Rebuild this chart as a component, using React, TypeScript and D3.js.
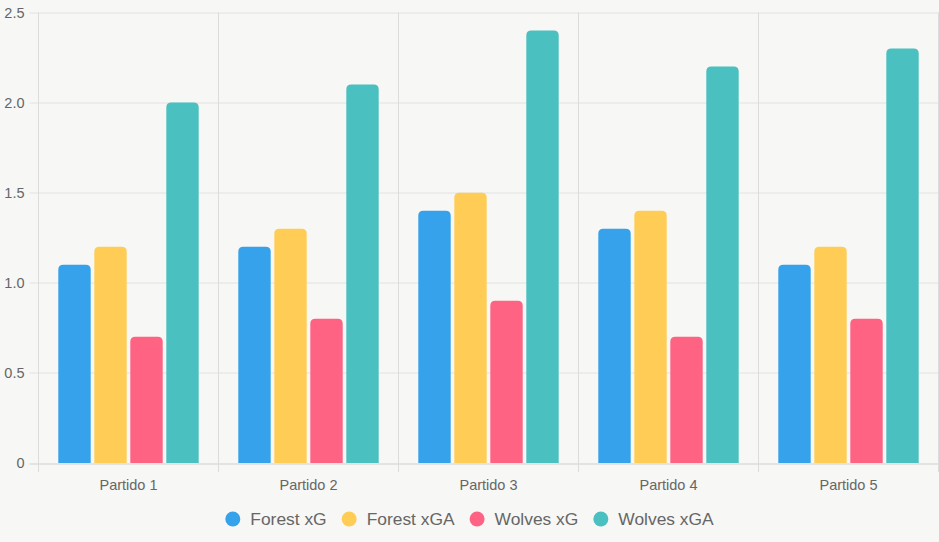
import { useMemo } from 'react'
import * as d3 from 'd3'

const partidos = ['Partido 1', 'Partido 2', 'Partido 3', 'Partido 4', 'Partido 5']
const seriesNames = ['Forest xG', 'Forest xGA', 'Wolves xG', 'Wolves xGA']
const forestXG = [1.1, 1.2, 1.4, 1.3, 1.1]
const forestXGA = [1.2, 1.3, 1.5, 1.4, 1.2]
const wolvesXG = [0.7, 0.8, 0.9, 0.7, 0.8]
const wolvesXGA = [2.0, 2.1, 2.4, 2.2, 2.3]
const yTicks = [0, 0.5, 1.0, 1.5, 2.0, 2.5]
const colors = ['#36A2EB', '#FFCD56', '#FF6384', '#4BC0C0']

const W = 939
const H = 542
const margin = { top: 12.5, right: 0.5, bottom: 79, left: 38.5 }
const FONT = '"Liberation Sans", Arial, Helvetica, sans-serif'

// bar with rounded top corners only
function barPath(x: number, y: number, w: number, h: number, r: number) {
  const rr = Math.min(r, w / 2, h)
  return `M${x},${y + h}V${y + rr}Q${x},${y} ${x + rr},${y}H${x + w - rr}Q${x + w},${y} ${x + w},${y + rr}V${y + h}Z`
}

function textWidth(s: string, size: number) {
  const ctx = document.createElement('canvas').getContext('2d')
  if (!ctx) return s.length * size * 0.55
  ctx.font = `${size}px ${FONT}`
  return ctx.measureText(s).width
}

export default function App() {
  const series = [forestXG, forestXGA, wolvesXG, wolvesXGA]
  const innerW = W - margin.left - margin.right
  const innerH = H - margin.top - margin.bottom

  const x0 = d3.scaleBand().domain(partidos).range([0, innerW]).paddingInner(0).paddingOuter(0)
  const y = d3.scaleLinear().domain([0, 2.5]).range([innerH, 0])

  // chart.js style: category 80%, bar 90%
  const catW = x0.bandwidth()
  const groupW = catW * 0.8
  const x1 = d3.scaleBand().domain(seriesNames).range([(catW - groupW) / 2, (catW + groupW) / 2])
  const slot = x1.bandwidth()
  const barW = slot * 0.9

  const legend = useMemo(() => {
    const size = 17.4
    const items = seriesNames.map((n) => ({ name: n, tw: textWidth(n, size) }))
    const boxW = 15
    const gapIn = 10
    const gapOut = 15
    const total = items.reduce((s, it) => s + boxW + gapIn + it.tw, 0) + gapOut * (items.length - 1)
    let cx = (W - total) / 2
    return items.map((it, i) => {
      const pos = { ...it, x: cx, color: colors[i] }
      cx += boxW + gapIn + it.tw + gapOut
      return pos
    })
  }, [])

  return (
    <div style={{ position: 'fixed', left: 0, top: 0, width: W, height: H, background: '#f7f7f5' }}>
      <svg width={W} height={H} style={{ display: 'block', fontFamily: FONT }}>
        <rect width={W} height={H} fill="#f7f7f5" />
        <g transform={`translate(${margin.left},${margin.top})`}>
          {yTicks.map((t) => (
            <g key={t}>
              <line x1={-9} x2={innerW} y1={Math.round(y(t))} y2={Math.round(y(t))} stroke={t === 0 ? '#cfcfcf' : '#e2e2e2'} strokeWidth={1} transform="translate(0,0.5)" />
              <text x={-14} y={y(t)} dy="0.35em" textAnchor="end" fontSize={14.5} fill="#666">
                {t === 0 ? '0' : t.toFixed(1)}
              </text>
            </g>
          ))}
          {d3.range(partidos.length + 1).map((i) => (
            <line key={i} x1={i * catW} x2={i * catW} y1={0} y2={innerH + 9} stroke="#dcdcdc" strokeWidth={1} />
          ))}
          {partidos.map((p, pi) => (
            <g key={p} transform={`translate(${x0(p)},0)`}>
              {series.map((vals, si) => {
                const bx = (x1(seriesNames[si]) ?? 0) + (slot - barW) / 2
                const by = y(vals[pi])
                return (
                  <path
                    key={si}
                    d={barPath(bx, by, barW, innerH - by, 5)}
                    fill={colors[si]}
                  />
                )
              })}
              <text x={catW / 2} y={innerH + 27} textAnchor="middle" fontSize={14.5} fill="#666">
                {p}
              </text>
            </g>
          ))}
        </g>
        <g>
          {legend.map((it) => (
            <g key={it.name}>
              <circle cx={it.x + 7.5} cy={519} r={7.5} fill={it.color} />
              <text x={it.x + 25} y={519} dy="0.35em" fontSize={17.4} fill="#666">
                {it.name}
              </text>
            </g>
          ))}
        </g>
      </svg>
    </div>
  )
}
